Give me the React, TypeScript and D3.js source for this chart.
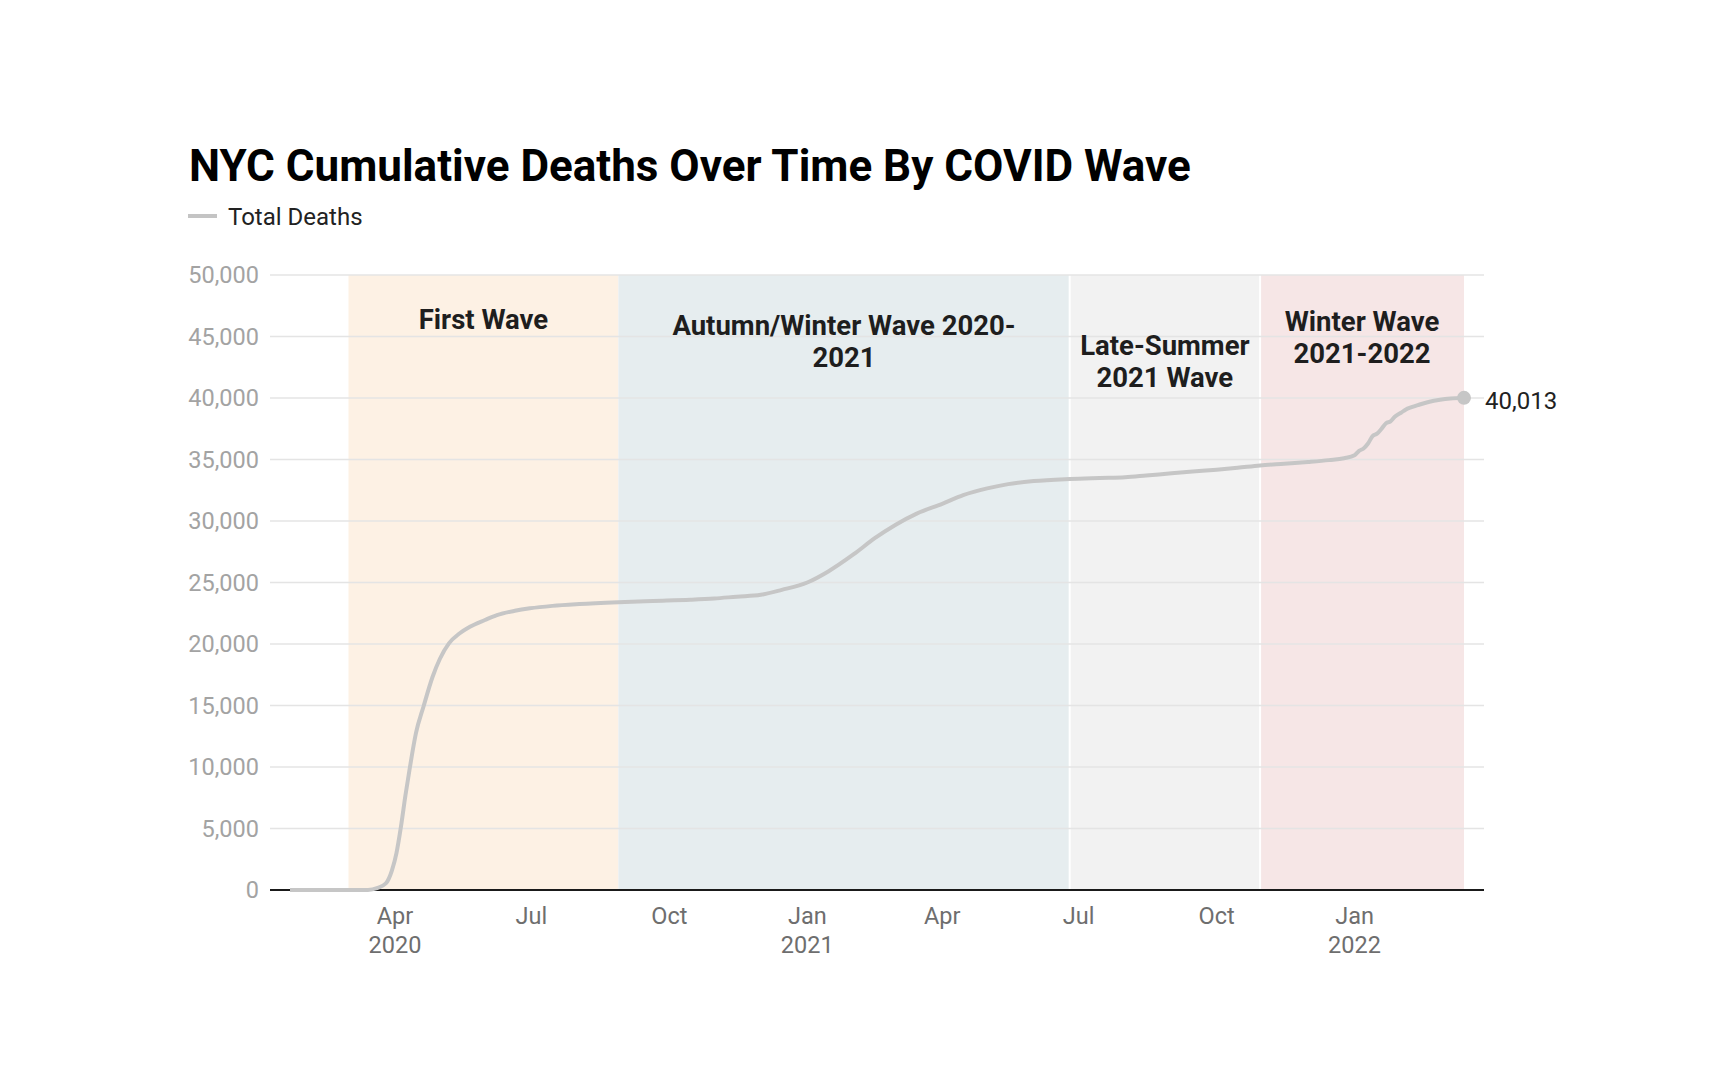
import * as d3 from "d3";

// cumulative deaths, NYC
const dates = [
  "2020-01-22", "2020-03-01", "2020-03-14", "2020-03-20", "2020-03-26", "2020-03-30",
  "2020-04-02", "2020-04-05", "2020-04-08", "2020-04-11", "2020-04-15", "2020-04-20",
  "2020-04-26", "2020-05-01", "2020-05-07", "2020-05-14", "2020-05-21", "2020-05-31",
  "2020-06-08", "2020-06-20", "2020-06-30", "2020-07-15", "2020-08-02", "2020-08-28",
  "2020-09-20", "2020-10-15", "2020-10-31", "2020-11-15", "2020-12-01", "2020-12-15",
  "2021-01-01", "2021-01-15", "2021-02-01", "2021-02-15", "2021-03-01", "2021-03-15",
  "2021-04-01", "2021-04-15", "2021-05-01", "2021-05-15", "2021-06-01", "2021-06-25",
  "2021-07-15", "2021-08-01", "2021-08-15", "2021-09-01", "2021-09-15", "2021-10-01",
  "2021-10-15", "2021-10-30", "2021-11-15", "2021-12-01", "2021-12-15", "2021-12-25",
  "2022-01-01", "2022-01-04", "2022-01-07", "2022-01-10", "2022-01-13", "2022-01-16",
  "2022-01-19", "2022-01-22", "2022-01-25", "2022-01-28", "2022-02-01", "2022-02-04",
  "2022-02-08", "2022-02-13", "2022-02-20", "2022-02-27", "2022-03-06", "2022-03-15",
];
const totalDeaths = [
  0, 0, 10, 150, 550, 1600,
  3000, 5150, 7700, 10000, 12750, 14900,
  17300, 18800, 20050, 20850, 21400, 21950,
  22350, 22700, 22900, 23100, 23250, 23400,
  23500, 23600, 23700, 23850, 24000, 24400,
  25000, 25900, 27300, 28600, 29700, 30600,
  31400, 32100, 32650, 33000, 33250, 33420,
  33500, 33560, 33700, 33880, 34020, 34170,
  34330, 34520, 34660, 34800, 34950, 35100,
  35350, 35700, 35900, 36300, 36900, 37100,
  37500, 37950, 38100, 38500, 38800, 39050,
  39250, 39450, 39700, 39850, 39950, 40013,
];

const waveNames = [
  ["First Wave"],
  ["Autumn/Winter Wave 2020-", "2021"],
  ["Late-Summer", "2021 Wave"],
  ["Winter Wave", "2021-2022"],
];
const waveStarts = ["2020-03-01", "2020-08-28", "2021-06-25", "2021-10-30"];
const waveEnds = ["2020-08-28", "2021-06-25", "2021-10-30", "2022-03-15"];
const waveFills = ["#fdf1e4", "#e6edef", "#f2f2f2", "#f6e6e6"];

const yTicks = [0, 5000, 10000, 15000, 20000, 25000, 30000, 35000, 40000, 45000, 50000];

const parse = d3.utcParse("%Y-%m-%d");
const series = dates.map((d, i) => ({ date: parse(d)!, value: totalDeaths[i] }));

export default function App() {
  const width = 1724, height = 1085;
  const left = 270, right = 1484, top = 275, bottom = 890;

  const x = d3.scaleUtc()
    .domain([series[0].date, series[series.length - 1].date])
    .range([left + 20, right - 20]);
  const y = d3.scaleLinear().domain([0, 50000]).range([bottom, top]);

  const line = d3.line<{ date: Date; value: number }>()
    .x(d => x(d.date))
    .y(d => y(d.value))
    .curve(d3.curveMonotoneX);

  const fmt = d3.format(",");
  const xTicks = d3.utcMonth.every(3)!.range(parse("2020-04-01")!, parse("2022-02-01")!);
  const monthFmt = d3.utcFormat("%b");

  // vertical placement of each wave label (first line), px
  const labelTops = [319, 325.5, 345, 321];

  const last = series[series.length - 1];

  return (
    <svg width={width} height={height} style={{ position: "absolute", left: 0, top: 0, background: "#fff" }}
      fontFamily="Roboto, sans-serif">
      <text x={189} y={181} fontSize={44} fontWeight={700} fill="#000">
        NYC Cumulative Deaths Over Time By COVID Wave
      </text>
      <line x1={188} x2={217} y1={216} y2={216} stroke="#c4c4c4" strokeWidth={4} />
      <text x={228} y={225} fontSize={24} fill="#222">Total Deaths</text>

      {waveStarts.map((s, i) => (
        <rect key={s} x={x(parse(s)!)} y={top} width={x(parse(waveEnds[i])!) - x(parse(s)!)}
          height={bottom - top} fill={waveFills[i]} />
      ))}
      {waveStarts.slice(2).map(s => (
        <line key={s} x1={x(parse(s)!)} x2={x(parse(s)!)} y1={top} y2={bottom} stroke="#fff" strokeWidth={2} />
      ))}

      {yTicks.map(t => (
        <g key={t}>
          {t > 0 && <line x1={left} x2={right} y1={y(t)} y2={y(t)} stroke="#e4e4e4" strokeWidth={1.5} />}
          <text x={259} y={y(t)} dy="0.35em" textAnchor="end" fontSize={23.5} fill="#a3a3a3">{fmt(t)}</text>
        </g>
      ))}

      {waveNames.map((lines, i) => {
        const cx = (x(parse(waveStarts[i])!) + x(parse(waveEnds[i])!)) / 2;
        return (
          <text key={i} x={cx} y={labelTops[i]} textAnchor="middle" fontSize={27.5} fontWeight={700} fill="#1e1e1e">
            {lines.map((l, j) => (
              <tspan key={j} x={cx} y={labelTops[i] + j * 32} dy="0.35em">{l}</tspan>
            ))}
          </text>
        );
      })}

      <line x1={left} x2={right} y1={bottom} y2={bottom} stroke="#1a1a1a" strokeWidth={2} />

      {xTicks.map(t => {
        const m = t.getUTCMonth();
        const showYear = m === 0 || t.getTime() === xTicks[0].getTime();
        return (
          <g key={t.getTime()} transform={`translate(${x(t)},0)`} fontSize={23.5} fill="#6e6e6e" textAnchor="middle">
            <text y={924}>{monthFmt(t)}</text>
            {showYear && <text y={953}>{t.getUTCFullYear()}</text>}
          </g>
        );
      })}

      <path d={line(series)!} fill="none" stroke="#c6c6c6" strokeWidth={4} strokeLinejoin="round" />
      <circle cx={x(last.date)} cy={y(last.value)} r={7} fill="#c6c6c6" />
      <text x={right + 1} y={y(last.value) + 3} dy="0.35em" fontSize={24} fill="#222">{fmt(last.value)}</text>
    </svg>
  );
}
